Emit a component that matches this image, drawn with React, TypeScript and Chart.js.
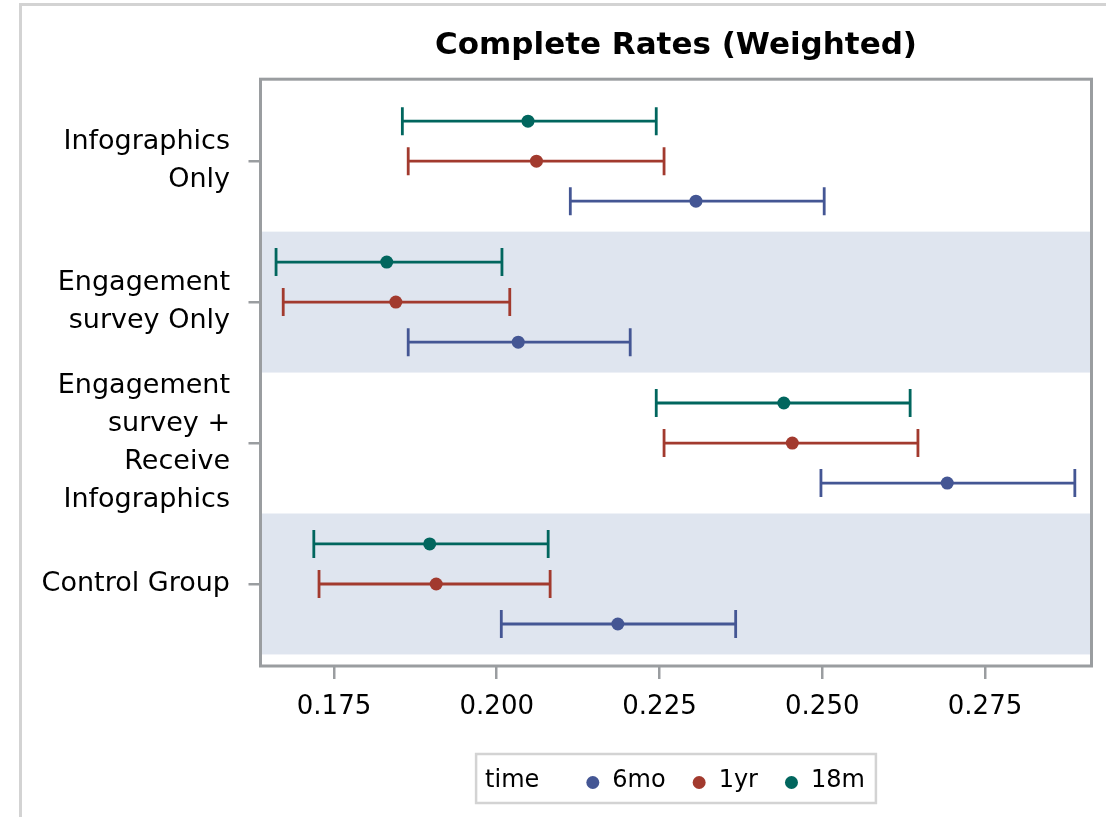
import { useEffect, useRef } from "react";
import { Chart, registerables } from "chart.js";

Chart.register(...registerables);

// ---------- data ----------
const categories: string[][] = [
  ["Infographics", "Only"],
  ["Engagement", "survey Only"],
  ["Engagement", "survey +", "Receive", "Infographics"],
  ["Control Group"],
];
const seriesNames = ["6mo", "1yr", "18m"];
const seriesColors = ["#445694", "#A23A2E", "#01665E"];
const seriesOffsets = [0.284, 0, -0.284];

const mean6mo = [0.2306, 0.2033, 0.2692, 0.2186];
const lower6mo = [0.2113, 0.1864, 0.2498, 0.2007];
const upper6mo = [0.2503, 0.2205, 0.2888, 0.2367];

const mean1yr = [0.2061, 0.1845, 0.2454, 0.1907];
const lower1yr = [0.1864, 0.1672, 0.2257, 0.1727];
const upper1yr = [0.2257, 0.202, 0.2647, 0.2082];

const mean18m = [0.2048, 0.1831, 0.2441, 0.1897];
const lower18m = [0.1855, 0.1661, 0.2245, 0.1719];
const upper18m = [0.2245, 0.2008, 0.2635, 0.2079];

const xTicks = [0.175, 0.2, 0.225, 0.25, 0.275];
const titleText = "Complete Rates (Weighted)";
const legendTitle = "time";

const means = [mean6mo, mean1yr, mean18m];
const lowers = [lower6mo, lower1yr, lower18m];
const uppers = [upper6mo, upper1yr, upper18m];

const FONT = "'DejaVu Sans', 'Liberation Sans', Arial, sans-serif";
const AXIS_GRAY = "#9A9DA0";

const bandsPlugin = {
  id: "bands",
  beforeDatasetsDraw(chart: any) {
    const { ctx, chartArea: a, scales } = chart;
    const y = scales.y;
    ctx.save();
    ctx.fillStyle = "#DFE5EF";
    categories.forEach((_, i) => {
      if (i % 2 === 1) {
        const t = y.getPixelForValue(i - 0.5);
        const b = y.getPixelForValue(i + 0.5);
        ctx.fillRect(a.left, Math.min(t, b), a.right - a.left, Math.abs(b - t));
      }
    });
    ctx.restore();
  },
};

const errorBarsPlugin = {
  id: "errorBars",
  beforeDatasetsDraw(chart: any) {
    const { ctx, scales } = chart;
    const x = scales.x;
    const y = scales.y;
    ctx.save();
    chart.data.datasets.forEach((ds: any) => {
      ctx.strokeStyle = ds.backgroundColor;
      ctx.lineWidth = 2.8;
      ds.data.forEach((p: any, i: number) => {
        const py = y.getPixelForValue(p.y);
        const x1 = x.getPixelForValue(ds.lower[i]);
        const x2 = x.getPixelForValue(ds.upper[i]);
        const cap = 14;
        ctx.beginPath();
        ctx.moveTo(x1, py);
        ctx.lineTo(x2, py);
        ctx.moveTo(x1, py - cap);
        ctx.lineTo(x1, py + cap);
        ctx.moveTo(x2, py - cap);
        ctx.lineTo(x2, py + cap);
        ctx.stroke();
      });
    });
    ctx.restore();
  },
};

const framePlugin = {
  id: "frame",
  afterDraw(chart: any) {
    const { ctx, chartArea: a, width, height } = chart;
    ctx.save();
    // outer light frame
    ctx.fillStyle = "#D3D3D3";
    ctx.fillRect(19, 3, width - 19, 3);
    ctx.fillRect(19, 3, 3, height - 3);
    // plot frame
    ctx.strokeStyle = AXIS_GRAY;
    ctx.lineWidth = 3;
    ctx.strokeRect(a.left, a.top, a.right - a.left, a.bottom - a.top);

    // legend
    ctx.font = `24px ${FONT}`;
    ctx.textBaseline = "middle";
    ctx.textAlign = "left";
    const padL = 9;
    const padR = 11;
    const afterTitle = 47;
    const r = 6.5;
    const dotToText = 13;
    const itemGap = 27;
    const titleW = ctx.measureText(legendTitle).width;
    const textWs = seriesNames.map((s) => ctx.measureText(s).width);
    let total = padL + titleW + afterTitle + padR;
    textWs.forEach((w, i) => {
      total += 2 * r + dotToText + w;
      if (i < textWs.length - 1) total += itemGap;
    });
    const cx = (a.left + a.right) / 2;
    const bx = cx - total / 2;
    const by = 754;
    const bh = 49;
    ctx.strokeStyle = "#D3D3D3";
    ctx.lineWidth = 2.5;
    ctx.strokeRect(bx, by, total, bh);
    const ty = by + bh / 2 + 2;
    ctx.fillStyle = "#000";
    let px = bx + padL;
    ctx.fillText(legendTitle, px, ty);
    px += titleW + afterTitle;
    seriesNames.forEach((s, i) => {
      ctx.fillStyle = seriesColors[i];
      ctx.beginPath();
      ctx.arc(px + r, ty + 2, r, 0, Math.PI * 2);
      ctx.fill();
      px += 2 * r + dotToText;
      ctx.fillStyle = "#000";
      ctx.fillText(s, px, ty);
      px += textWs[i] + itemGap;
    });
    ctx.restore();
  },
};

export default function App() {
  const ref = useRef<HTMLCanvasElement | null>(null);

  useEffect(() => {
    if (!ref.current) return;
    const datasets = seriesNames.map((name, si) => ({
      label: name,
      data: means[si].map((v, i) => ({ x: v, y: i + seriesOffsets[si] })),
      lower: lowers[si],
      upper: uppers[si],
      backgroundColor: seriesColors[si],
      borderColor: seriesColors[si],
      pointRadius: 6.5,
      pointBorderWidth: 0,
      pointHoverRadius: 6.5,
      showLine: false,
    }));

    const chart = new Chart(ref.current, {
      type: "scatter",
      data: { datasets: datasets as any },
      options: {
        animation: false,
        responsive: false,
        devicePixelRatio: 1,
        layout: { padding: { left: 0, right: 14.5, top: 0, bottom: 0 } },
        plugins: {
          legend: { display: false },
          tooltip: { enabled: false },
          title: {
            display: true,
            text: titleText,
            fullSize: false,
            color: "#000",
            font: { family: FONT, size: 31, weight: "bold", lineHeight: 1.2 },
            padding: { top: 27, bottom: 15 },
          } as any,
        },
        scales: {
          x: {
            type: "linear",
            min: 0.16371,
            max: 0.29136,
            afterBuildTicks: (scale: any) => {
              scale.ticks = xTicks.map((v) => ({ value: v }));
            },
            afterFit: (scale: any) => {
              scale.height = 151;
            },
            ticks: {
              color: "#000",
              font: { family: FONT, size: 26, lineHeight: 1.2 },
              padding: 13,
              maxRotation: 0,
              autoSkip: false,
              callback: (v: any) => Number(v).toFixed(3),
            },
            grid: {
              drawOnChartArea: false,
              drawTicks: true,
              tickLength: 13,
              color: AXIS_GRAY,
              lineWidth: 2.5,
            },
            border: { display: false },
          },
          y: {
            type: "linear",
            reverse: true,
            min: -0.5816,
            max: 3.582,
            afterBuildTicks: (scale: any) => {
              scale.ticks = categories.map((_, i) => ({ value: i }));
            },
            afterFit: (scale: any) => {
              scale.width = 260.5;
            },
            ticks: {
              color: "#000",
              font: { family: FONT, size: 27, lineHeight: 1.4 },
              padding: 18.5,
              autoSkip: false,
              callback: (v: any) => categories[Math.round(Number(v))] ?? "",
            },
            grid: {
              drawOnChartArea: false,
              drawTicks: true,
              tickLength: 12,
              color: AXIS_GRAY,
              lineWidth: 2.5,
            },
            border: { display: false },
          },
        },
      },
      plugins: [bandsPlugin, errorBarsPlugin, framePlugin],
    });
    return () => chart.destroy();
  }, []);

  return (
    <div style={{ position: "fixed", left: 0, top: 0, width: 1106, height: 817, background: "#fff" }}>
      <canvas ref={ref} width={1106} height={817} />
    </div>
  );
}
